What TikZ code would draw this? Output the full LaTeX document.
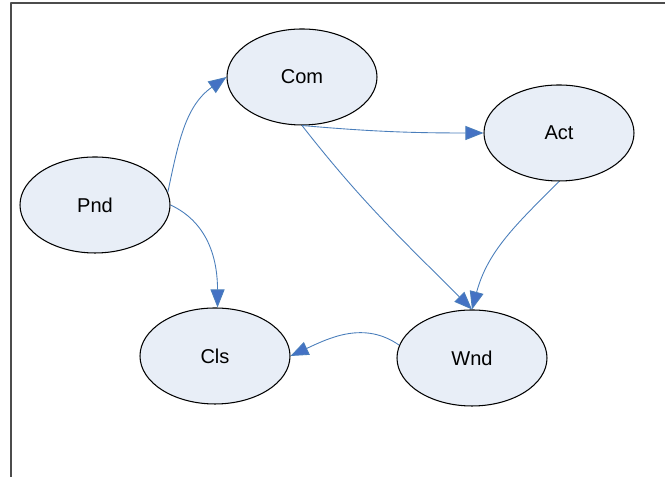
\documentclass[tikz,border=0pt]{standalone}
\usepackage{fontspec}
\setmainfont{Liberation Sans}
\usepackage{tikz}
\usepgflibrary{shapes}
\usetikzlibrary{arrows.meta}
\definecolor{statefill}{RGB}{232,238,247}
\definecolor{edgeblue}{RGB}{74,126,187}
\definecolor{tipblue}{RGB}{68,114,196}
\begin{document}
\begin{tikzpicture}[join=round,
        state/.style={ellipse,draw=black,line width=0.6pt,fill=statefill,minimum width=3cm,minimum height=1.92cm,inner sep=0pt,font=\fontsize{11.4}{13}\selectfont},
        trans/.style={draw=edgeblue,line width=0.5pt,-{Triangle[length=0.36cm,width=0.28cm,fill=tipblue]}}] %State chart with 5 states
        \useasboundingbox (0,0) rectangle (13.3,9.54);
        \draw[gray!60!black,line width=0.6pt] (0.22,0)--(0.22,9.48)--(13.3,9.48);
        \node[state] (com) at (6.04,8.00) {Com};
        \node[state] (act) at (11.18,6.88) {Act};
        \node[state] (pnd) at (1.90,5.44) {Pnd};
        \node[state] (cls) at (4.30,2.42) {Cls};
        \node[state] (wnd) at (9.44,2.38) {Wnd};
        \draw[trans] (pnd.10) to[out=78,in=215] (com.west);
        \draw[trans] (pnd.east) to[out=-25,in=90] (cls.87);
        \draw[trans] (com.south) to[out=-5,in=180] (act.west);
        \draw[trans] (com.south) to[out=-52,in=135] (wnd.north);
        \draw[trans] (act.south) to[out=-135,in=75] (wnd.north);
        \draw[trans] (wnd.170) to[out=145,in=25] (cls.east);
    \end{tikzpicture}
\end{document}
